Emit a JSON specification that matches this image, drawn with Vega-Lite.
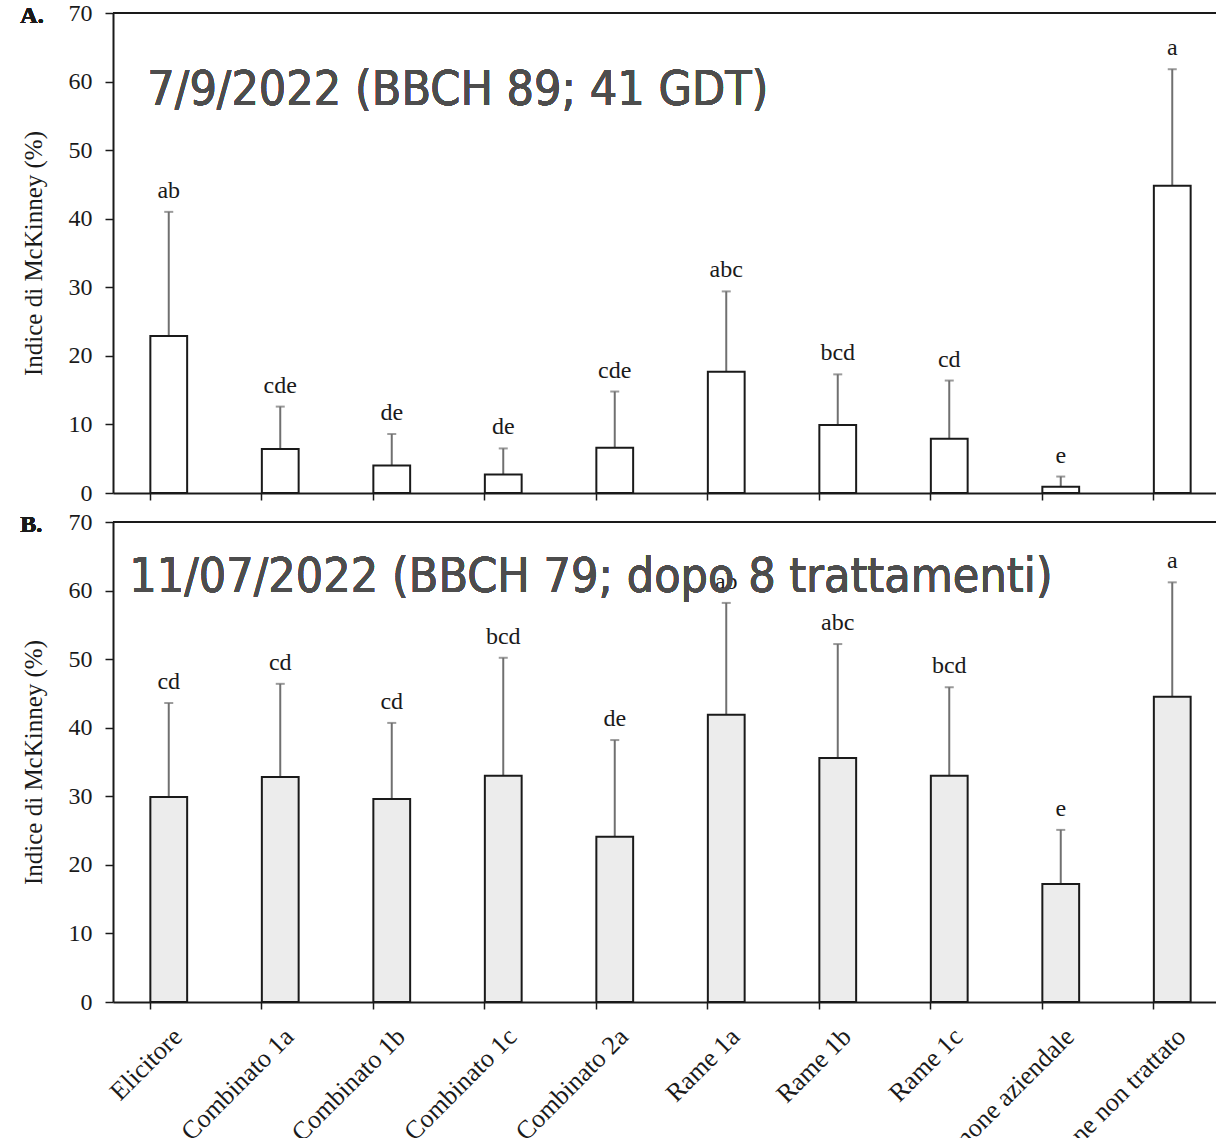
{
  "$schema": "https://vega.github.io/schema/vega-lite/v6.json",
  "background": "white",
  "padding": {"left": 20, "top": 1, "right": 0, "bottom": 0},
  "spacing": 5,
  "datasets": {
    "misure": [
      {"panel": "A", "trattamento": "Elicitore", "media": 22.9, "sup": 41.0, "lettera": "ab"},
      {"panel": "A", "trattamento": "Combinato 1a", "media": 6.4, "sup": 12.6, "lettera": "cde"},
      {"panel": "A", "trattamento": "Combinato 1b", "media": 4.0, "sup": 8.6, "lettera": "de"},
      {"panel": "A", "trattamento": "Combinato 1c", "media": 2.7, "sup": 6.5, "lettera": "de"},
      {"panel": "A", "trattamento": "Combinato 2a", "media": 6.6, "sup": 14.8, "lettera": "cde"},
      {"panel": "A", "trattamento": "Rame 1a", "media": 17.7, "sup": 29.4, "lettera": "abc"},
      {"panel": "A", "trattamento": "Rame 1b", "media": 9.9, "sup": 17.3, "lettera": "bcd"},
      {"panel": "A", "trattamento": "Rame 1c", "media": 7.9, "sup": 16.4, "lettera": "cd"},
      {"panel": "A", "trattamento": "Testimone aziendale", "media": 0.9, "sup": 2.4, "lettera": "e"},
      {"panel": "A", "trattamento": "Testimone non trattato", "media": 44.8, "sup": 61.8, "lettera": "a"},
      {"panel": "B", "trattamento": "Elicitore", "media": 29.9, "sup": 43.6, "lettera": "cd"},
      {"panel": "B", "trattamento": "Combinato 1a", "media": 32.8, "sup": 46.4, "lettera": "cd"},
      {"panel": "B", "trattamento": "Combinato 1b", "media": 29.6, "sup": 40.7, "lettera": "cd"},
      {"panel": "B", "trattamento": "Combinato 1c", "media": 33.0, "sup": 50.2, "lettera": "bcd"},
      {"panel": "B", "trattamento": "Combinato 2a", "media": 24.1, "sup": 38.2, "lettera": "de"},
      {"panel": "B", "trattamento": "Rame 1a", "media": 41.9, "sup": 58.2, "lettera": "ab"},
      {"panel": "B", "trattamento": "Rame 1b", "media": 35.6, "sup": 52.2, "lettera": "abc"},
      {"panel": "B", "trattamento": "Rame 1c", "media": 33.0, "sup": 45.9, "lettera": "bcd"},
      {"panel": "B", "trattamento": "Testimone aziendale", "media": 17.2, "sup": 25.1, "lettera": "e"},
      {"panel": "B", "trattamento": "Testimone non trattato", "media": 44.5, "sup": 61.2, "lettera": "a"}
    ]
  },
  "vconcat": [
    {
      "width": 1115,
      "height": 480,
      "data": {"name": "misure"},
      "transform": [{"filter": "datum.panel === 'A'"}],
      "encoding": {
        "x": {
          "field": "trattamento",
          "type": "nominal",
          "sort": null,
          "scale": {"paddingInner": 0.67, "paddingOuter": 0.335},
          "axis": {"bandPosition": 0, "labels": false, "tickSize": 7, "title": null}
        }
      },
      "layer": [
        {
          "mark": {"type": "rule", "color": "#1a1a1a", "strokeWidth": 2},
          "encoding": {"x": null, "y": {"datum": 70, "type": "quantitative"}}
        },
        {
          "mark": {"type": "rule", "color": "#707070", "strokeWidth": 2},
          "encoding": {
            "y": {"field": "media", "type": "quantitative"},
            "y2": {"field": "sup"}
          }
        },
        {
          "mark": {"type": "tick", "color": "#707070", "thickness": 2, "size": 9},
          "encoding": {"y": {"field": "sup", "type": "quantitative"}}
        },
        {
          "mark": {"type": "bar", "fill": "white", "stroke": "#1a1a1a", "strokeWidth": 2},
          "encoding": {
            "y": {
              "field": "media",
              "type": "quantitative",
              "scale": {"domain": [0, 70], "nice": false},
              "axis": {
                "values": [0, 10, 20, 30, 40, 50, 60, 70],
                "tickSize": 8,
                "labelPadding": 13,
                "title": "Indice di McKinney (%)",
                "titlePadding": 22
              }
            }
          }
        },
        {
          "mark": {"type": "text", "baseline": "alphabetic", "dy": -14, "font": "Liberation Serif", "fontSize": 24, "color": "#1a1a1a"},
          "encoding": {
            "y": {"field": "sup", "type": "quantitative"},
            "text": {"field": "lettera"}
          }
        },
        {
          "mark": {"type": "text", "align": "left", "baseline": "alphabetic", "dx": -3, "font": "DejaVu Sans Condensed", "fontSize": 48, "color": "#4d4d4d"},
          "encoding": {
            "x": {"datum": "Elicitore", "bandPosition": 0},
            "y": {"datum": 56.6, "type": "quantitative"},
            "text": {"value": "7/9/2022 (BBCH 89; 41 GDT)"}
          }
        },
        {
          "mark": {"type": "text", "align": "left", "baseline": "alphabetic", "dx": -130, "dy": 10, "font": "Liberation Serif", "fontWeight": "bold", "fontSize": 24, "color": "#1a1a1a"},
          "encoding": {
            "x": {"datum": "Elicitore", "bandPosition": 0},
            "y": {"datum": 70, "type": "quantitative"},
            "text": {"value": "A."}
          }
        }
      ]
    },
    {
      "width": 1115,
      "height": 480,
      "data": {"name": "misure"},
      "transform": [{"filter": "datum.panel === 'B'"}],
      "encoding": {
        "x": {
          "field": "trattamento",
          "type": "nominal",
          "sort": null,
          "scale": {"paddingInner": 0.67, "paddingOuter": 0.335},
          "axis": {"bandPosition": 0, "tickSize": 7, "title": null, "labelAngle": -45, "labelFontSize": 26, "labelPadding": 14, "labelLimit": 0}
        }
      },
      "layer": [
        {
          "mark": {"type": "rule", "color": "#1a1a1a", "strokeWidth": 2},
          "encoding": {"x": null, "y": {"datum": 70, "type": "quantitative"}}
        },
        {
          "mark": {"type": "rule", "color": "#707070", "strokeWidth": 2},
          "encoding": {
            "y": {"field": "media", "type": "quantitative"},
            "y2": {"field": "sup"}
          }
        },
        {
          "mark": {"type": "tick", "color": "#707070", "thickness": 2, "size": 9},
          "encoding": {"y": {"field": "sup", "type": "quantitative"}}
        },
        {
          "mark": {"type": "bar", "fill": "#ececec", "stroke": "#1a1a1a", "strokeWidth": 2},
          "encoding": {
            "y": {
              "field": "media",
              "type": "quantitative",
              "scale": {"domain": [0, 70], "nice": false},
              "axis": {
                "values": [0, 10, 20, 30, 40, 50, 60, 70],
                "tickSize": 8,
                "labelPadding": 13,
                "title": "Indice di McKinney (%)",
                "titlePadding": 22
              }
            }
          }
        },
        {
          "mark": {"type": "text", "baseline": "alphabetic", "dy": -14, "font": "Liberation Serif", "fontSize": 24, "color": "#1a1a1a"},
          "encoding": {
            "y": {"field": "sup", "type": "quantitative"},
            "text": {"field": "lettera"}
          }
        },
        {
          "mark": {"type": "text", "align": "left", "baseline": "alphabetic", "dx": -21, "font": "DejaVu Sans Condensed", "fontSize": 48, "color": "#4d4d4d"},
          "encoding": {
            "x": {"datum": "Elicitore", "bandPosition": 0},
            "y": {"datum": 59.8, "type": "quantitative"},
            "text": {"value": "11/07/2022 (BBCH 79; dopo 8 trattamenti)"}
          }
        },
        {
          "mark": {"type": "text", "align": "left", "baseline": "alphabetic", "dx": -130, "dy": 10, "font": "Liberation Serif", "fontWeight": "bold", "fontSize": 24, "color": "#1a1a1a"},
          "encoding": {
            "x": {"datum": "Elicitore", "bandPosition": 0},
            "y": {"datum": 70, "type": "quantitative"},
            "text": {"value": "B."}
          }
        }
      ]
    }
  ],
  "config": {
    "view": {"stroke": null},
    "axis": {
      "grid": false,
      "domainColor": "#1a1a1a",
      "domainWidth": 2,
      "tickColor": "#1a1a1a",
      "tickWidth": 1.5,
      "labelFont": "Liberation Serif",
      "labelFontSize": 24,
      "labelColor": "#1a1a1a",
      "titleFont": "Liberation Serif",
      "titleFontSize": 25,
      "titleFontWeight": "normal",
      "titleColor": "#1a1a1a"
    }
  }
}
